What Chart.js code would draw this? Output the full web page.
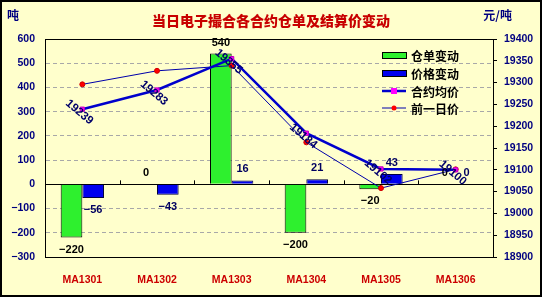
<!DOCTYPE html>
<html>
<head>
<meta charset="utf-8">
<script src="https://cdn.jsdelivr.net/npm/chart.js@4.4.1/dist/chart.umd.min.js"></script>
<style>
    html, body { margin: 0; padding: 0; background: #fff; }
    #wrap { width: 542px; height: 297px; }
</style>
</head>
<body>
<div id="wrap"><canvas id="chart" width="542" height="297"></canvas></div>
<script>
const contracts = ["MA1301", "MA1302", "MA1303", "MA1304", "MA1305", "MA1306"];
const receiptChange = [-220, 0, 540, -200, -20, 0];
const priceChange = [-56, -43, 16, 21, 43, 0];
const avgPrice = [19239, 19283, 19355, 19184, 19102, 19100];
const prevPrice = [19296, 19327, 19339, 19163, 19058, 19101];
const tonsTicks = [-300, 600, 100];
const priceTicks = [18900, 19400, 50];

const titleText = "当日电子撮合各合约仓单及结算价变动";
const legendNames = ["仓单变动", "价格变动", "合约均价", "前一日价"];

const FONT = "'Liberation Sans', 'Noto Sans CJK SC', sans-serif";
const CJK = "'Noto Sans CJK SC', 'Liberation Sans', sans-serif";
const NAVY = "#000080";

function fmt(v) {
    return v < 0 ? "\u2212" + Math.abs(v) : String(v);
}

// background, frame, title, units
const framePlugin = {
    id: "frame",
    beforeDraw(chart) {
        const ctx = chart.ctx;
        ctx.save();
        ctx.fillStyle = "#FFFFCC";
        ctx.fillRect(0, 0, chart.width, chart.height);
        ctx.restore();
    },
    afterDraw(chart) {
        const ctx = chart.ctx;
        ctx.save();
        ctx.strokeStyle = "#000";
        ctx.lineWidth = 2;
        ctx.strokeRect(1, 1, chart.width - 2, chart.height - 2);

        ctx.fillStyle = "#C80000";
        ctx.font = "900 14px " + CJK;
        ctx.textAlign = "center";
        ctx.textBaseline = "middle";
        ctx.fillText(titleText, 271, 21);

        ctx.fillStyle = NAVY;
        ctx.font = "bold 12px " + CJK;
        ctx.textAlign = "left";
        ctx.fillText("吨", 7, 15);
        ctx.textAlign = "right";
        ctx.fillText("元/吨", 512, 15);
        ctx.restore();
    },
};

// zero line tick marks between categories
const zeroTicksPlugin = {
    id: "zeroTicks",
    afterDatasetsDraw(chart) {
        const ctx = chart.ctx;
        const x = chart.scales.x;
        const y0 = chart.scales.y.getPixelForValue(0);
        ctx.save();
        ctx.strokeStyle = "#000";
        ctx.lineWidth = 1;
        ctx.beginPath();
        for (let i = 1; i < contracts.length; i++) {
            const px = Math.round((x.getPixelForValue(i - 1) + x.getPixelForValue(i)) / 2) + 0.5;
            ctx.moveTo(px, y0);
            ctx.lineTo(px, y0 - 4);
        }
        ctx.stroke();
        ctx.restore();
    },
};

// value labels
const labelsPlugin = {
    id: "valueLabels",
    afterDraw(chart) {
        const ctx = chart.ctx;
        ctx.save();
        ctx.textAlign = "center";
        ctx.textBaseline = "middle";
        [0, 1].forEach((di) => {
            const meta = chart.getDatasetMeta(di);
            const vals = chart.data.datasets[di].data;
            ctx.fillStyle = di === 0 ? "#000" : "#000060";
            ctx.font = "bold 11px " + FONT;
            meta.data.forEach((bar, i) => {
                const v = vals[i];
                const y = v < 0 ? bar.y + 12 : bar.y - 11;
                ctx.fillText(fmt(v), bar.x, y);
            });
        });
        const meta = chart.getDatasetMeta(2);
        ctx.fillStyle = "#00006A";
        ctx.font = "bold 11.5px " + FONT;
        meta.data.forEach((pt, i) => {
            ctx.save();
            ctx.translate(pt.x - 3, pt.y + 3);
            ctx.rotate((40 * Math.PI) / 180);
            ctx.fillText(String(avgPrice[i]), 0, 0);
            ctx.restore();
        });
        ctx.restore();
    },
};

// legend drawn inside plot
const legendPlugin = {
    id: "innerLegend",
    afterDraw(chart) {
        const ctx = chart.ctx;
        const x0 = 382, x1 = 406;
        const rows = [55, 73, 91, 108];
        ctx.save();
        ctx.font = "bold 12px " + CJK;
        ctx.textBaseline = "middle";
        ctx.textAlign = "left";
        ctx.lineWidth = 1;
        const ds = chart.data.datasets;
        // bars
        [0, 1].forEach((i) => {
            ctx.fillStyle = ds[i].backgroundColor;
            ctx.fillRect(x0, rows[i] - 3, x1 - x0, 6);
            ctx.strokeStyle = "#000";
            ctx.strokeRect(x0 + 0.5, rows[i] - 2.5, x1 - x0, 6);
        });
        // lines
        [2, 3].forEach((i) => {
            const y = rows[i];
            ctx.strokeStyle = ds[i].borderColor;
            ctx.lineWidth = ds[i].borderWidth;
            ctx.beginPath();
            ctx.moveTo(x0, y);
            ctx.lineTo(x1, y);
            ctx.stroke();
            ctx.fillStyle = ds[i].pointBackgroundColor;
            const cx = (x0 + x1) / 2;
            if (i === 2) {
                ctx.fillRect(cx - 3, y - 3, 6, 6);
            } else {
                ctx.beginPath();
                ctx.arc(cx, y, 2.5, 0, Math.PI * 2);
                ctx.fill();
            }
        });
        ctx.fillStyle = "#000";
        legendNames.forEach((name, i) => ctx.fillText(name, 411, rows[i] + 1));
        ctx.restore();
    },
};

const solidAt = (v) => v === 0 || v === tonsTicks[0] || v === tonsTicks[1];

const config = {
    type: "bar",
    data: {
        labels: contracts,
        datasets: [
            {
                label: legendNames[0],
                data: receiptChange,
                backgroundColor: "#2EF02E",
                borderColor: "#000",
                borderWidth: 1,
                yAxisID: "y",
                order: 2,
                categoryPercentage: 0.58,
                barPercentage: 1,
            },
            {
                label: legendNames[1],
                data: priceChange,
                backgroundColor: "#0000EE",
                borderColor: "#000040",
                borderWidth: 1,
                yAxisID: "y",
                order: 3,
                categoryPercentage: 0.58,
                barPercentage: 1,
            },
            {
                type: "line",
                label: legendNames[2],
                data: avgPrice,
                borderColor: "#0000CC",
                borderWidth: 2.5,
                pointStyle: "rect",
                pointRadius: 3,
                pointBackgroundColor: "#FF00FF",
                pointBorderColor: "#C000C0",
                pointBorderWidth: 1,
                tension: 0,
                yAxisID: "y1",
                order: 0,
            },
            {
                type: "line",
                label: legendNames[3],
                data: prevPrice,
                borderColor: "#0000AA",
                borderWidth: 1,
                pointStyle: "circle",
                pointRadius: 2.5,
                pointBackgroundColor: "#FF0000",
                pointBorderColor: "#D00000",
                pointBorderWidth: 1,
                tension: 0,
                yAxisID: "y1",
                order: 1,
            },
        ],
    },
    options: {
        responsive: false,
        animation: false,
        devicePixelRatio: 1,
        layout: { padding: { top: 39, left: 0, right: 0, bottom: 0 } },
        plugins: {
            legend: { display: false },
            title: { display: false },
            tooltip: { enabled: false },
        },
        scales: {
            x: {
                grid: { display: false },
                border: { display: true, color: "#000" },
                ticks: {
                    color: "#CC0000",
                    font: { family: FONT, size: 10.5, weight: "bold" },
                    padding: 9,
                    maxRotation: 0,
                },
                afterFit: (s) => { s.height = 40; },
            },
            y: {
                position: "left",
                min: tonsTicks[0],
                max: tonsTicks[1],
                ticks: {
                    stepSize: tonsTicks[2],
                    color: NAVY,
                    font: { family: FONT, size: 10.5, weight: "bold" },
                    padding: 10,
                    callback: (v) => fmt(v),
                },
                grid: {
                    drawTicks: false,
                    color: (c) => (c.tick && solidAt(c.tick.value) ? "#000" : "#A8A8A8"),
                    lineWidth: 1,
                },
                border: {
                    display: true,
                    color: "#000",
                    dash: (c) => (c.tick && solidAt(c.tick.value) ? [] : [4, 3]),
                },
                afterFit: (s) => { s.width = 45; },
            },
            y1: {
                position: "right",
                min: priceTicks[0],
                max: priceTicks[1],
                ticks: {
                    stepSize: priceTicks[2],
                    color: NAVY,
                    font: { family: FONT, size: 10.5, weight: "bold" },
                    padding: 7,
                    callback: (v) => String(v),
                },
                grid: { drawOnChartArea: false, tickLength: 4, tickColor: "#000" },
                border: { display: true, color: "#000" },
                afterFit: (s) => { s.width = 49; },
            },
        },
    },
    plugins: [framePlugin, zeroTicksPlugin, labelsPlugin, legendPlugin],
};

new Chart(document.getElementById("chart").getContext("2d"), config);
</script>
</body>
</html>
